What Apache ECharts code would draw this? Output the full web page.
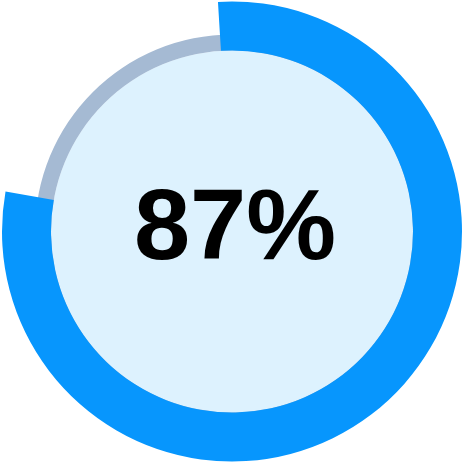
<!DOCTYPE html>
<html>
<head>
<meta charset="utf-8">
<script src="https://cdn.jsdelivr.net/npm/echarts@6/dist/echarts.min.js"></script>
<style>
html, body { margin: 0; padding: 0; background: #fff; }
#chart { width: 464px; height: 464px; }
</style>
</head>
<body>
<div id="chart"></div>
<script>
var percent = [87];
var minValue = 0;
var maxValue = 100;

var barColor = '#0796fd';
var trackColor = '#a5bad3';
var fillColor = '#ddf2fe';
var center = [232, 231.5];
// arc starts a bit left of 12 o'clock, 87 ends near 9:30
var startAngle = 93.5;
var endAngle = -232.4;

function hidden() {
    return {
        axisTick: {show: false},
        splitLine: {show: false},
        axisLabel: {show: false},
        pointer: {show: false},
        anchor: {show: false},
        title: {show: false}
    };
}

function makeGauge(extra) {
    var base = hidden();
    base.type = 'gauge';
    base.center = center;
    base.startAngle = startAngle;
    base.endAngle = endAngle;
    base.min = minValue;
    base.max = maxValue;
    base.silent = true;
    base.animation = false;
    for (var k in extra) base[k] = extra[k];
    return base;
}

var option = {
    series: [
        // inner disk
        makeGauge({
            radius: 181,
            startAngle: 90,
            endAngle: -270,
            axisLine: {lineStyle: {width: 181, color: [[1, fillColor]]}},
            detail: {show: false},
            data: [{value: 0}]
        }),
        // grey track
        makeGauge({
            radius: 197,
            startAngle: 90,
            endAngle: -270,
            axisLine: {lineStyle: {width: 16, color: [[1, trackColor]]}},
            detail: {show: false},
            data: [{value: 0}]
        }),
        // blue progress
        makeGauge({
            radius: 230,
            axisLine: {show: false},
            progress: {show: true, width: 49, itemStyle: {color: barColor}},
            detail: {
                show: true,
                offsetCenter: [3, 0],
                formatter: '{value}%',
                fontSize: 101,
                fontWeight: 'bold',
                fontFamily: 'Liberation Sans',
                color: '#000'
            },
            data: [{value: percent[0]}]
        })
    ]
};

var myChart = echarts.init(document.getElementById('chart'));
myChart.setOption(option);
</script>
</body>
</html>
